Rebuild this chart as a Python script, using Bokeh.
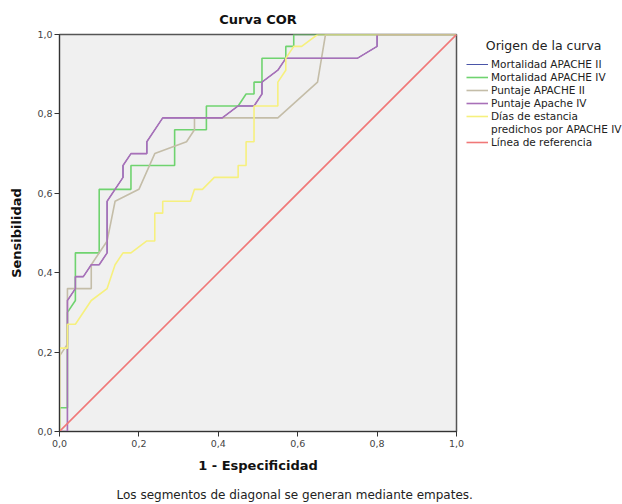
from bokeh.plotting import figure
from bokeh.models import Range1d, FixedTicker, CustomJSTickFormatter, Legend, LegendItem, Title
from bokeh.embed import file_html
from bokeh.resources import INLINE

# ---- data (1 - especificidad, sensibilidad) ----
mort2_x = [0, 0.02, 0.02, 0.04, 0.04, 0.06, 0.08, 0.10, 0.12, 0.12, 0.16, 0.16, 0.18, 0.22, 0.22, 0.26, 0.41, 0.45, 0.49, 0.51, 0.51, 0.55, 0.57, 0.75, 0.80, 0.80, 1.0]
mort2_y = [0, 0, 0.33, 0.36, 0.39, 0.39, 0.42, 0.42, 0.45, 0.58, 0.64, 0.67, 0.70, 0.70, 0.73, 0.79, 0.79, 0.82, 0.82, 0.85, 0.88, 0.91, 0.94, 0.94, 0.97, 1.0, 1.0]

mort4_x = [0, 0, 0.02, 0.02, 0.04, 0.04, 0.10, 0.10, 0.18, 0.18, 0.29, 0.29, 0.37, 0.37, 0.45, 0.47, 0.49, 0.49, 0.51, 0.51, 0.57, 0.57, 0.59, 0.59, 1.0]
mort4_y = [0, 0.06, 0.06, 0.30, 0.33, 0.45, 0.45, 0.61, 0.61, 0.67, 0.67, 0.76, 0.76, 0.82, 0.82, 0.85, 0.85, 0.88, 0.88, 0.94, 0.94, 0.97, 0.97, 1.0, 1.0]

punt2_x = [0, 0, 0.02, 0.02, 0.08, 0.08, 0.12, 0.14, 0.20, 0.24, 0.32, 0.34, 0.34, 0.55, 0.65, 0.67, 1.0]
punt2_y = [0, 0.19, 0.22, 0.36, 0.36, 0.42, 0.48, 0.58, 0.61, 0.70, 0.73, 0.76, 0.79, 0.79, 0.88, 1.0, 1.0]

punt4_x = [0, 0.02, 0.02, 0.04, 0.04, 0.06, 0.08, 0.10, 0.12, 0.12, 0.16, 0.16, 0.18, 0.22, 0.22, 0.26, 0.41, 0.45, 0.49, 0.51, 0.51, 0.55, 0.57, 0.75, 0.80, 0.80, 1.0]
punt4_y = [0, 0, 0.33, 0.36, 0.39, 0.39, 0.42, 0.42, 0.45, 0.58, 0.64, 0.67, 0.70, 0.70, 0.73, 0.79, 0.79, 0.82, 0.82, 0.85, 0.88, 0.91, 0.94, 0.94, 0.97, 1.0, 1.0]

dias_x = [0, 0, 0.02, 0.02, 0.04, 0.08, 0.12, 0.14, 0.16, 0.18, 0.22, 0.24, 0.24, 0.26, 0.26, 0.33, 0.34, 0.36, 0.39, 0.45, 0.45, 0.47, 0.47, 0.49, 0.49, 0.55, 0.55, 0.57, 0.57, 0.59, 0.61, 0.65, 1.0]
dias_y = [0, 0.21, 0.21, 0.27, 0.27, 0.33, 0.36, 0.42, 0.45, 0.45, 0.48, 0.48, 0.55, 0.55, 0.58, 0.58, 0.61, 0.61, 0.64, 0.64, 0.67, 0.67, 0.73, 0.73, 0.82, 0.82, 0.88, 0.91, 0.94, 0.97, 0.97, 1.0, 1.0]

ref_x = [0, 1]
ref_y = [0, 1]

labels = ["Mortalidad APACHE II", "Mortalidad APACHE IV", "Puntaje APACHE II",
          "Puntaje Apache IV", "Días de estancia", "Línea de referencia"]
label_cont = "predichos por APACHE IV"
ticks = [0, 0.2, 0.4, 0.6, 0.8, 1.0]

FONT = "DejaVu Sans"

p = figure(frame_width=397, frame_height=397,
           x_range=Range1d(0, 1), y_range=Range1d(0, 1),
           output_backend="svg", toolbar_location=None,
           min_border_left=59, min_border_right=166, min_border_top=34, min_border_bottom=73,
           background_fill_color="#f0f0f0", border_fill_color="white")

p.title.text = "Curva COR"
p.title.align = "center"
p.title.text_font = FONT
p.title.text_font_size = "13px"
p.title.text_font_style = "bold"
p.title.text_color = "#111111"
p.title.standoff = 16

p.outline_line_color = "#555555"
p.outline_line_width = 1.5
p.grid.visible = False

for ax in (p.xaxis[0], p.yaxis[0]):
    ax.ticker = FixedTicker(ticks=ticks)
    ax.formatter = CustomJSTickFormatter(code="return tick.toFixed(1).replace('.', ',');")
    ax.minor_tick_line_color = None
    ax.major_tick_in = 0
    ax.major_tick_out = 5
    ax.axis_line_color = "#333333"
    ax.major_tick_line_color = "#333333"
    ax.major_label_text_font = FONT
    ax.major_label_text_font_size = "9.5px"
    ax.major_label_text_color = "#444444"
    ax.axis_label_text_font = FONT
    ax.axis_label_text_font_size = "13px"
    ax.axis_label_text_font_style = "bold"
    ax.axis_label_text_color = "#111111"

p.xaxis.axis_label = "1 - Especificidad"
p.yaxis.axis_label = "Sensibilidad"
p.xaxis.major_label_standoff = 3
p.xaxis.axis_label_standoff = 8
p.yaxis.major_label_standoff = 2
p.yaxis.axis_label_standoff = 10

colors = ["#4a55a8", "#6fd36f", "#c4bda8", "#a870b8", "#f6f07e", "#f07878"]
widths = [1.0, 1.6, 1.6, 1.6, 1.6, 1.6]
series = [(mort2_x, mort2_y), (mort4_x, mort4_y), (punt2_x, punt2_y),
          (punt4_x, punt4_y), (dias_x, dias_y), (ref_x, ref_y)]

items = []
for i, ((xs, ys), c, w, lab) in enumerate(zip(series, colors, widths, labels)):
    r = p.line(xs, ys, line_color=c, line_width=w)
    items.append(LegendItem(label=lab, renderers=[r]))
    if i == 4:
        ghost = p.line(dias_x, dias_y, line_alpha=0)
        items.append(LegendItem(label=label_cont, renderers=[ghost]))

legend = Legend(items=items, location=(10, 283),
                title="\u00a0\u00a0\u00a0\u00a0\u00a0Origen de la curva",
                title_text_font=FONT, title_text_font_size="12.5px",
                title_text_font_style="normal", title_text_color="#222222",
                title_standoff=5,
                label_text_font=FONT, label_text_font_size="10.5px",
                label_text_color="#222222",
                glyph_width=22, glyph_height=10, label_height=10, label_standoff=3,
                spacing=1, padding=0, margin=0,
                border_line_color=None, background_fill_alpha=0)
p.add_layout(legend, "right")

p.add_layout(Title(text="Los segmentos de diagonal se generan mediante empates.",
                   align="left", offset=57, text_font=FONT, text_font_size="12px",
                   text_font_style="normal", text_color="#222222", standoff=20), "below")

open("out.html", "w").write(file_html(p, INLINE))
